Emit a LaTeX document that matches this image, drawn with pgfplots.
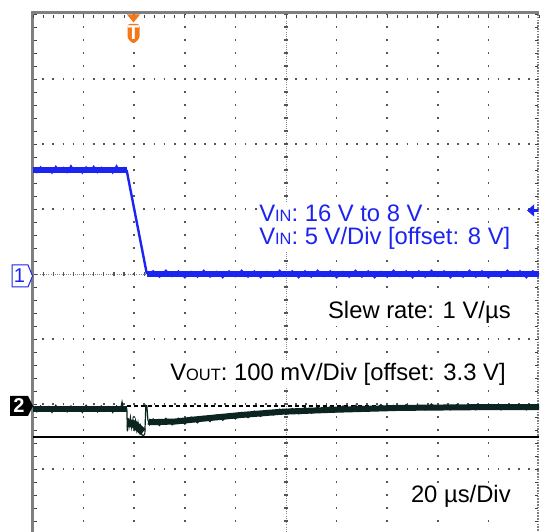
\documentclass[border=0pt]{standalone}
\usepackage{fontspec}
\setmainfont{Liberation Sans}
\usepackage{pgfplots}
\pgfplotsset{compat=1.18}
\definecolor{chone}{RGB}{28,36,240}
\definecolor{chtwo}{RGB}{12,36,32}
\definecolor{trig}{RGB}{242,120,24}
\definecolor{framec}{RGB}{128,128,128}
\definecolor{gdot}{RGB}{85,85,85}
\begin{document}
\begin{tikzpicture}
\useasboundingbox (0,0) rectangle (273.5pt,265.5pt);
\fill[white] (0,0) rectangle (273.5pt,265.5pt);
\begin{axis}[at={(16.5pt,-1.5pt)}, anchor=south west, scale only axis,
  width=253pt, height=260pt, xmin=-40, xmax=160, ymin=-4, ymax=4,
  hide axis, clip=false]
% graticule
\pgfplotsinvokeforeach{-20,0,20,40,80,100,120,140}{
  \draw[gdot, line width=0.85pt, dash pattern=on 0.85pt off 5.65pt, dash phase=0.42pt] (axis cs:#1,4) -- (axis cs:#1,-4.2);
}
\pgfplotsinvokeforeach{-3,-2,-1,1,2,3}{
  \draw[gdot, line width=0.85pt, dash pattern=on 0.85pt off 4.21pt, dash phase=0.42pt] (axis cs:-40,#1) -- (axis cs:160,#1);
}
% centre lines
\draw[gdot!70, line width=0.5pt, dash pattern=on 0.5pt off 0.6pt] (axis cs:60,4) -- (axis cs:60,-4.2);
\draw[gdot, line width=2pt, dash pattern=on 0.6pt off 5.9pt, dash phase=0.3pt] (axis cs:60,4) -- (axis cs:60,-4.2);
\draw[gdot!70, line width=0.5pt, dash pattern=on 0.5pt off 0.6pt] (axis cs:-40,0) -- (axis cs:160,0);
\draw[gdot, line width=2pt, dash pattern=on 0.6pt off 4.46pt, dash phase=0.3pt] (axis cs:-40,0) -- (axis cs:160,0);
% frame
\draw[framec, line width=1.5pt] (axis cs:-40.3,-4.2) -- (axis cs:-40.3,4.03) -- (axis cs:160,4.03);
\draw[black!75, line width=1.4pt, dash pattern=on 0.5pt off 4.56pt, dash phase=0.25pt] ([yshift=-1.4pt]axis cs:-40,4) -- ([yshift=-1.4pt]axis cs:160,4);
\draw[black!75, line width=1.6pt, dash pattern=on 0.5pt off 6pt, dash phase=0.25pt] ([xshift=1.2pt]axis cs:-40,4) -- ([xshift=1.2pt]axis cs:-40,-4.2);
\draw[framec, line width=0.7pt, dash pattern=on 0.8pt off 0.6pt] (axis cs:159.6,4) -- (axis cs:159.6,-4.2);
\draw[black!75, line width=1.4pt, dash pattern=on 0.5pt off 6pt, dash phase=0.25pt] ([xshift=-1.2pt]axis cs:160,4) -- ([xshift=-1.2pt]axis cs:160,-4.2);
% cursor lines (channel 2)
\addplot[black, line width=0.6pt, dash pattern=on 2pt off 1.5pt] coordinates {(-3,-2.03) (160,-2.03)};
\addplot[black, line width=1pt] coordinates {(-40,-2.51) (160,-2.51)};
% channel 2 (VOUT) band
\addplot[chtwo, line width=3pt] coordinates {(-40,-2.08) (-3,-2.08)};
\addplot[chtwo, line width=3.8pt] coordinates {(-2.7,-2.29) (0,-2.31) (3.5,-2.43)};
\addplot[chtwo, line width=3pt] coordinates {(5.6,-2.27) (6.5,-2.28) (16,-2.27) (26,-2.23) (42,-2.17) (58,-2.12) (78,-2.09) (105,-2.06) (133,-2.05) (160,-2.05)};
% channel 2 noise / spikes
\addplot[chtwo, line width=0.6pt] coordinates {
(-40,-2.05) (-38.5,-2.12) (-37,-2.03) (-35.5,-2.11) (-34,-2.04) (-32.5,-2.13) (-31,-2.02) (-29.5,-2.10)
(-28,-2.04) (-26.5,-2.12) (-25,-2.03) (-23.5,-2.11) (-22,-2.05) (-20.5,-2.13) (-19,-2.02) (-17.5,-2.10)
(-16,-2.04) (-14.5,-2.12) (-13,-2.03) (-11.5,-2.11) (-10,-2.04) (-8.5,-2.13) (-7,-2.03) (-5.5,-2.10)
(-4.8,-1.97) (-4.2,-2.09) (-3.2,-2.05) (-2.9,-2.08) (-2.7,-2.42) (-2.4,-2.22) (-2,-2.34) (-1.5,-2.21)
(-1,-2.36) (-0.5,-2.24) (0,-2.37) (0.5,-2.26) (1,-2.40) (1.5,-2.29) (2,-2.43) (2.5,-2.34) (3,-2.47)
(3.6,-2.49) (4.2,-2.46) (4.6,-2.02) (5,-2.03) (5.4,-2.24) (6,-2.32) (7.5,-2.23) (10,-2.33) (12.5,-2.22)
(15,-2.32) (17.5,-2.22) (20,-2.31) (22.5,-2.20) (25,-2.29) (27.5,-2.19) (30,-2.27) (32.5,-2.17) (35,-2.25)
(37.5,-2.15) (40,-2.23) (42.5,-2.13) (45,-2.21) (47.5,-2.11) (50,-2.19) (52.5,-2.10) (55,-2.17) (57.5,-2.08)
(60,-2.16) (62.5,-2.07) (65,-2.15) (67.5,-2.05) (70,-2.14) (72.5,-2.05) (75,-2.13) (77.5,-2.04) (80,-2.12)
(82.5,-2.03) (85,-2.11) (87.5,-2.02) (90,-2.10) (92.5,-2.03) (95,-2.10) (97.5,-2.01) (100,-2.09) (102.5,-2.02)
(105,-2.09) (107.5,-2.01) (110,-2.08) (112.5,-2.02) (115,-2.09) (117.5,-2.00) (120,-2.08) (122.5,-2.02)
(125,-2.09) (127.5,-2.01) (130,-2.08) (132.5,-2.01) (135,-2.09) (137.5,-2.02) (140,-2.08) (142.5,-2.01)
(145,-2.09) (147.5,-2.02) (150,-2.08) (152.5,-2.01) (155,-2.09) (157.5,-2.02) (160,-2.06)};
% channel 1 (VIN)
\addplot[chone, line width=3.2pt] coordinates {(-40,1.6) (-3,1.6)};
\addplot[chone, line width=1.2pt] coordinates {(-3,1.6) (5,0)};
\addplot[chone, line width=3.2pt] coordinates {(5,0) (160,0)};
\addplot[chone, line width=0.6pt] coordinates {
(-40,1.64) (-38.5,1.56) (-37,1.65) (-35.5,1.57) (-34,1.63) (-32.5,1.55) (-31,1.66) (-29.5,1.58)
(-28,1.64) (-26.5,1.56) (-25,1.67) (-23.5,1.57) (-22,1.63) (-20.5,1.55) (-19,1.65) (-17.5,1.58)
(-16,1.66) (-14.5,1.56) (-13,1.64) (-11.5,1.57) (-10,1.63) (-8.5,1.55) (-7,1.67) (-5.5,1.57)
(-4,1.64) (-3,1.6)};
\addplot[chone, line width=0.6pt] coordinates {
(5,0) (7.5,0.05) (10,-0.05) (12.5,0.06) (15,-0.04) (17.5,0.05) (20,-0.06) (22.5,0.04) (25,-0.05)
(27.5,0.06) (30,-0.05) (32.5,0.04) (35,-0.06) (37.5,0.05) (40,-0.04) (42.5,0.06) (45,-0.05) (47.5,0.05)
(50,-0.06) (52.5,0.04) (55,-0.05) (57.5,0.06) (60,-0.04) (62.5,0.05) (65,-0.06) (67.5,0.05) (70,-0.05)
(72.5,0.06) (75,-0.04) (77.5,0.05) (80,-0.06) (82.5,0.04) (85,-0.05) (87.5,0.06) (90,-0.05) (92.5,0.05)
(95,-0.06) (97.5,0.04) (100,-0.05) (102.5,0.06) (105,-0.04) (107.5,0.05) (110,-0.06) (112.5,0.05)
(115,-0.05) (117.5,0.06) (120,-0.04) (122.5,0.05) (125,-0.06) (127.5,0.04) (130,-0.05) (132.5,0.06)
(135,-0.05) (137.5,0.05) (140,-0.06) (142.5,0.04) (145,-0.05) (147.5,0.06) (150,-0.04) (152.5,0.05)
(155,-0.06) (157.5,0.05) (160,0)};
\end{axis}
% annotations in pixel coordinates (origin top-left)
\begin{scope}[x=0.5pt, y=-0.5pt, shift={(0pt,265.5pt)}]
\tikzset{lbl/.style={inner sep=1.2pt, fill=white, font=\fontsize{11.9}{14}\selectfont}}
\newcommand{\sub}[1]{{\fontsize{8.2}{9}\selectfont #1}}
\node[lbl, anchor=base west, text=chone] at (256.5,222) {V\sub{IN}: 16 V to 8 V};
\node[lbl, anchor=base west, text=chone] at (256.5,245) {V\sub{IN}: 5 V/Div [offset: 8 V]};
\node[lbl, anchor=base east] at (513.5,319) {Slew rate: 1 V/µs};
\node[lbl, anchor=base east] at (508.5,381) {V\sub{OUT}: 100 mV/Div [offset: 3.3 V]};
\node[lbl, anchor=base east] at (513.5,503) {20 µs/Div};
% channel 1 marker
\filldraw[fill=white, draw=chone, line width=0.5pt] (12,265) -- (28,265) -- (32.5,276) -- (28,287) -- (12,287) -- cycle;
\node[text=chone, inner sep=0pt, font=\fontsize{10}{12}\selectfont] at (19.5,276) {1};
% channel 2 marker
\fill[black] (10,396) -- (28,396) -- (33,406) -- (28,416) -- (10,416) -- cycle;
\node[text=white, inner sep=0pt, font=\bfseries\fontsize{10}{12}\selectfont] at (19,406) {2};
% trigger marker
\fill[trig] (127,14.5) -- (140,14.5) -- (133.5,22.5) -- cycle;
\fill[trig, rounded corners=1.2pt] (127.5,24) -- (139.5,24) -- (139.5,38.5) -- (133.5,44) -- (127.5,38.5) -- cycle;
\node[text=white, inner sep=0pt, font=\bfseries\fontsize{10}{11}\selectfont] at (133.5,32.5) {T};
% trigger level arrow
\fill[chone] (527,210.5) -- (534,204.5) -- (534,216.5) -- cycle;
\draw[chone, line width=1.5pt] (533,210.5) -- (538,210.5);
\end{scope}
\end{tikzpicture}
\end{document}
